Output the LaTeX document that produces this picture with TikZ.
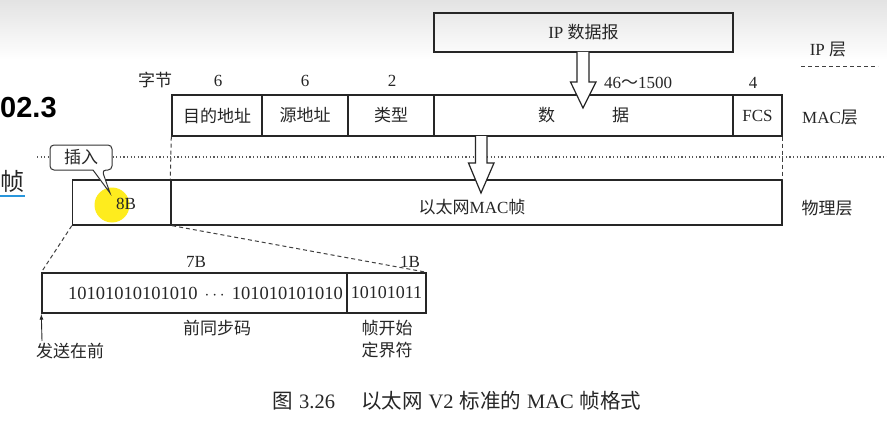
\documentclass[tikz,border=0pt]{standalone}
\usepackage{fontspec}
\setmainfont{Liberation Serif}
\newfontfamily\cjk{Noto Sans CJK SC}
\newfontfamily\slidesans{Liberation Sans}
\usetikzlibrary{calc,arrows.meta}
\newcommand\zh[1]{{\cjk #1}}
\begin{document}
\begin{tikzpicture}[x=1pt,y=-1pt,
  every node/.style={font=\fontsize{17}{20}\selectfont, text=black!85, inner sep=0pt},
  frame/.style={draw=black!85, line width=1.4pt},
  cell/.style={frame, minimum height=#1},
  hollow/.style={draw=black!85, line width=1.2pt, fill=white, line join=miter},
  guide/.style={draw=black!75, line width=1pt, dash pattern=on 4pt off 3pt},
  dots/.style={draw=black!65, line width=1.1pt, dash pattern=on 1.2pt off 2.4pt}]
\clip (0,0) rectangle (887,428);
% background
\fill[white] (0,0) rectangle (887,428);
\shade[top color=black!11, bottom color=white] (0,0) rectangle (887,60);

% slide fragments at the left
\node[anchor=west, font=\slidesans\bfseries\fontsize{29}{32}\selectfont, text=black] (slnum) at (0,108) {02.3};
\node[anchor=west, font=\cjk\fontsize{24}{27}\selectfont, text=black!85] (slzh) at (0,181) {帧};
\coordinate (ulA) at (0,196);
\coordinate (ulB) at (25,196);
\draw[line width=1.6pt, draw={rgb,255:red,40;green,150;blue,220}] (ulA) -- (ulB);

% dotted layer boundary
\coordinate (dotA) at (37,157);
\coordinate (dotB) at (887,157);
\draw[dots] (dotA) -- (dotB);
% IP layer dashed mark
\coordinate (ipdA) at (801,67);
\coordinate (ipdB) at (878,67);
\draw[guide] (ipdA) -- (ipdB);

% yellow highlight
\fill[yellow!92!orange!98, opacity=0.9] (112,205) circle (17.5);

% IP datagram
\node[cell=39, minimum width=299] (ip) at (583.5,32.5) {IP \zh{数据报}};
\node (iplayer) at (828,50) {IP \zh{层}};

% byte counts
\node (bytes) at (155,80) {\zh{字节}};
\node (n1) at (218,81) {6};
\node (n2) at (305,81) {6};
\node (n3) at (392,81) {2};
\node (n4) at (638,83) {46\zh{～}1500};
\node (n5) at (753,83) {4};

% MAC frame
\node[cell=41, minimum width=90] (dst) at (217,115.5) {\zh{目的地址}};
\node[cell=41, minimum width=86] (src) at (305,115.5) {\zh{源地址}};
\node[cell=41, minimum width=86] (typ) at (391,115.5) {\zh{类型}};
\node[cell=41, minimum width=299] (dat) at (583.5,115.5) {\zh{数}\hspace{57pt}\zh{据}};
\node[cell=41, minimum width=49] (fcs) at (757.5,115.5) {FCS};
\node (maclayer) at (830,118) {MAC\zh{层}};

% physical frame
\node[cell=45, minimum width=99] (p8) at (122,202.5) {};
\node (eightb) at (126,204) {8B};
\node[cell=45, minimum width=611] (pmac) at (476.5,202.5) {};
\node (pmactext) at (472,207) {\zh{以太网}MAC\zh{帧}};
\node (phylayer) at (827,208) {\zh{物理层}};

% dashed vertical guides
\draw[guide] (dst.south west) -- (pmac.north west);
\draw[guide] (fcs.south east) -- (pmac.north east);

% hollow arrow IP -> data
\draw[hollow] (577,52) -- (577,82) -- (570.5,82) -- (583,108) -- (596,82) -- (589,82) -- (589,52);
% hollow arrow data -> physical
\draw[hollow] (475.5,136) -- (475.5,163) -- (468.5,163) -- (481,193) -- (494,163) -- (487,163) -- (487,136);

% callout
\draw[draw=black!80, line width=1pt, fill=white, rounded corners=4pt]
  (93,170) -- (50,170) -- (50,145) -- (112,145) -- (112,170) -- (102,170) [sharp corners] -- (110,193) -- cycle;
\node (ins) at (81,157.5) {\zh{插入}};

% preamble
\node[cell=40, minimum width=305, font=\fontsize{18.5}{21}\selectfont] (pre) at (194.5,293) {\hspace{22pt}10101010101010\hspace{7pt}$\cdots$\hspace{7pt}101010101010};
\node[cell=40, minimum width=79, font=\fontsize{18}{21}\selectfont] (sfd) at (386.5,293) {10101011};
\node (b7) at (196,262) {7B};
\node (b1) at (410,262) {1B};
\draw[guide] (p8.south west) -- (pre.north west);
\draw[guide] (p8.south east) -- (sfd.north east);

\node (prelabel) at (217,328) {\zh{前同步码}};
\node[align=center, font=\cjk\fontsize{17}{22.5}\selectfont] (sfdlabel) at (387,339) {帧开始\\定界符};
\node (first) at (70,351) {\zh{发送在前}};
\coordinate (arrfoot) at (42,341);
\draw[-{Latex[length=6pt,width=4pt]}, draw=black!85, line width=0.9pt] (arrfoot) -- (pre.south west);

% caption
\node[font=\fontsize{20.5}{23}\selectfont] (caption) at (457,401) {\zh{图}\hspace{6pt}3.26\hspace{26pt}\zh{以太网}\hspace{6pt}V2\hspace{6pt}\zh{标准的}\hspace{6pt}MAC\hspace{6pt}\zh{帧格式}};
\end{tikzpicture}
\end{document}
